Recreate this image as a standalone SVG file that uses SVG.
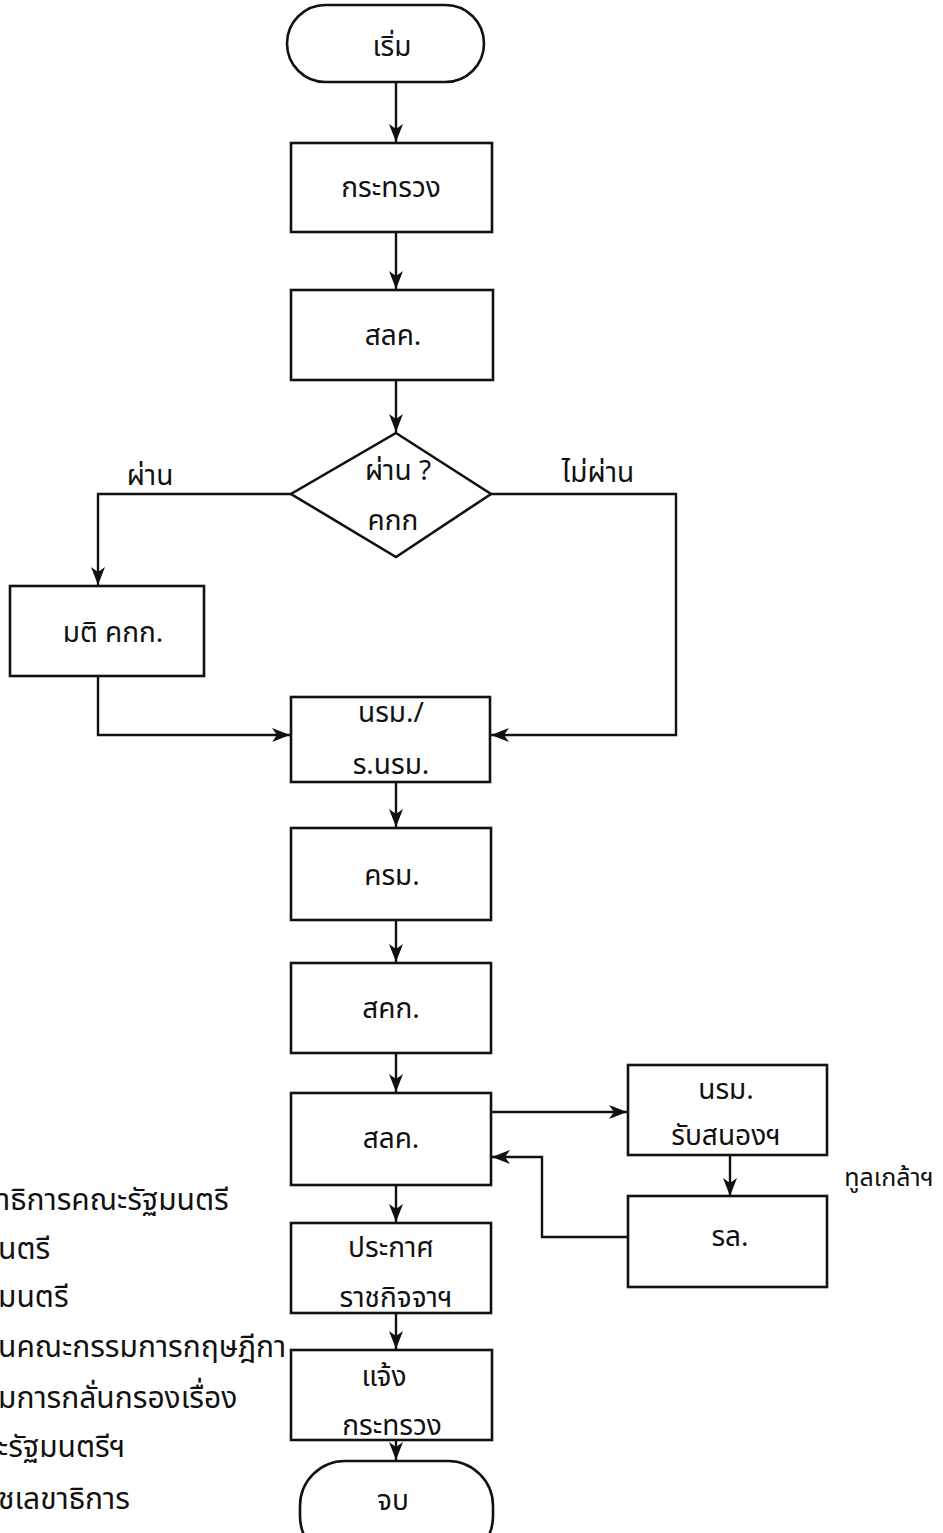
<svg xmlns="http://www.w3.org/2000/svg" width="943" height="1533" viewBox="0 0 943 1533">
<style>
.s{fill:#fff;stroke:#111;stroke-width:2.6}
.c{fill:none;stroke:#111;stroke-width:2.4}
text{font-family:"Noto Sans Thai","Noto Sans","DejaVu Sans",sans-serif;font-size:28px;fill:#111}
.m{text-anchor:middle}
.lg{font-size:30px}
</style>
<defs>
<marker id="a" viewBox="0 0 18 14" refX="18" refY="7" markerWidth="18" markerHeight="14" markerUnits="userSpaceOnUse" orient="auto">
<path d="M0,0 L18,7 L0,14 L5,7 Z" fill="#111"/>
</marker>
</defs>
<rect width="943" height="1533" fill="#fff"/>
<g id="connectors">
<path class="c" d="M396,82 V142" marker-end="url(#a)"/>
<path class="c" d="M396,232 V289" marker-end="url(#a)"/>
<path class="c" d="M396,380 V432" marker-end="url(#a)"/>
<path class="c" d="M291,494 H98 V585" marker-end="url(#a)"/>
<path class="c" d="M490,494 H676 V735 H491" marker-end="url(#a)"/>
<path class="c" d="M98,676 V735 H290" marker-end="url(#a)"/>
<path class="c" d="M396,782 V827" marker-end="url(#a)"/>
<path class="c" d="M396,920 V962" marker-end="url(#a)"/>
<path class="c" d="M396,1053 V1092" marker-end="url(#a)"/>
<path class="c" d="M491,1112 H627" marker-end="url(#a)"/>
<path class="c" d="M730,1155 V1196" marker-end="url(#a)"/>
<path class="c" d="M628,1237 H542 V1157 H492" marker-end="url(#a)"/>
<path class="c" d="M396,1185 V1222" marker-end="url(#a)"/>
<path class="c" d="M396,1313 V1349" marker-end="url(#a)"/>
<path class="c" d="M396,1440 V1460" marker-end="url(#a)"/>
</g>
<g id="start">
<rect class="s" x="287" y="5" width="197" height="77" rx="38.5"/>
<text class="m" x="392" y="56">เริ่ม</text>
</g>
<g id="ministry1">
<rect class="s" x="291" y="143" width="201" height="89"/>
<text class="m" x="391" y="197">กระทรวง</text>
</g>
<g id="slk1">
<rect class="s" x="291" y="290" width="202" height="90"/>
<text class="m" x="393" y="345">สลค.</text>
</g>
<g id="decision">
<polygon class="s" points="396,433 491,494 396,557 291,494"/>
<text class="m" x="398" y="480">ผ่าน ?</text>
<text class="m" x="393" y="530">คกก</text>
</g>
<g id="labels">
<text class="m" x="150" y="485">ผ่าน</text>
<text class="m" x="598" y="482">ไม่ผ่าน</text>
<text class="m" x="889" y="1186" style="font-size:25px">ทูลเกล้าฯ</text>
</g>
<g id="kkk">
<rect class="s" x="10" y="586" width="194" height="90"/>
<text class="m" x="113" y="642">มติ คกก.</text>
</g>
<g id="pm">
<rect class="s" x="291" y="697" width="199" height="85"/>
<text class="m" x="391" y="722">นรม./</text>
<text class="m" x="391" y="774">ร.นรม.</text>
</g>
<g id="cabinet">
<rect class="s" x="291" y="828" width="200" height="92"/>
<text class="m" x="392" y="885">ครม.</text>
</g>
<g id="skk">
<rect class="s" x="291" y="963" width="200" height="90"/>
<text class="m" x="391" y="1018">สคก.</text>
</g>
<g id="slk2">
<rect class="s" x="291" y="1093" width="200" height="92"/>
<text class="m" x="391" y="1148">สลค.</text>
</g>
<g id="pmsign">
<rect class="s" x="628" y="1065" width="199" height="90"/>
<text class="m" x="726" y="1099">นรม.</text>
<text class="m" x="726" y="1145">รับสนองฯ</text>
</g>
<g id="king">
<rect class="s" x="628" y="1196" width="199" height="91"/>
<text class="m" x="730" y="1246">รล.</text>
</g>
<g id="gazette">
<rect class="s" x="291" y="1223" width="200" height="90"/>
<text class="m" x="391" y="1257">ประกาศ</text>
<text class="m" x="396" y="1307">ราชกิจจาฯ</text>
</g>
<g id="notify">
<rect class="s" x="291" y="1350" width="201" height="90"/>
<text class="m" x="384" y="1386">แจ้ง</text>
<text class="m" x="392" y="1435">กระทรวง</text>
</g>
<g id="end">
<rect class="s" x="300" y="1461" width="193" height="100" rx="45"/>
<text class="m" x="393" y="1510">จบ</text>
</g>
<g id="legend">
<text class="lg" x="-2" y="1210">าธิการคณะรัฐมนตรี</text>
<text class="lg" x="-2" y="1259">นตรี</text>
<text class="lg" x="-2" y="1307">มนตรี</text>
<text class="lg" x="-2" y="1357">นคณะกรรมการกฤษฎีกา</text>
<text class="lg" x="-2" y="1408">มการกลั่นกรองเรื่อง</text>
<text class="lg" x="-2" y="1457">ะรัฐมนตรีฯ</text>
<text class="lg" x="-2" y="1509">ชเลขาธิการ</text>
</g>
</svg>
